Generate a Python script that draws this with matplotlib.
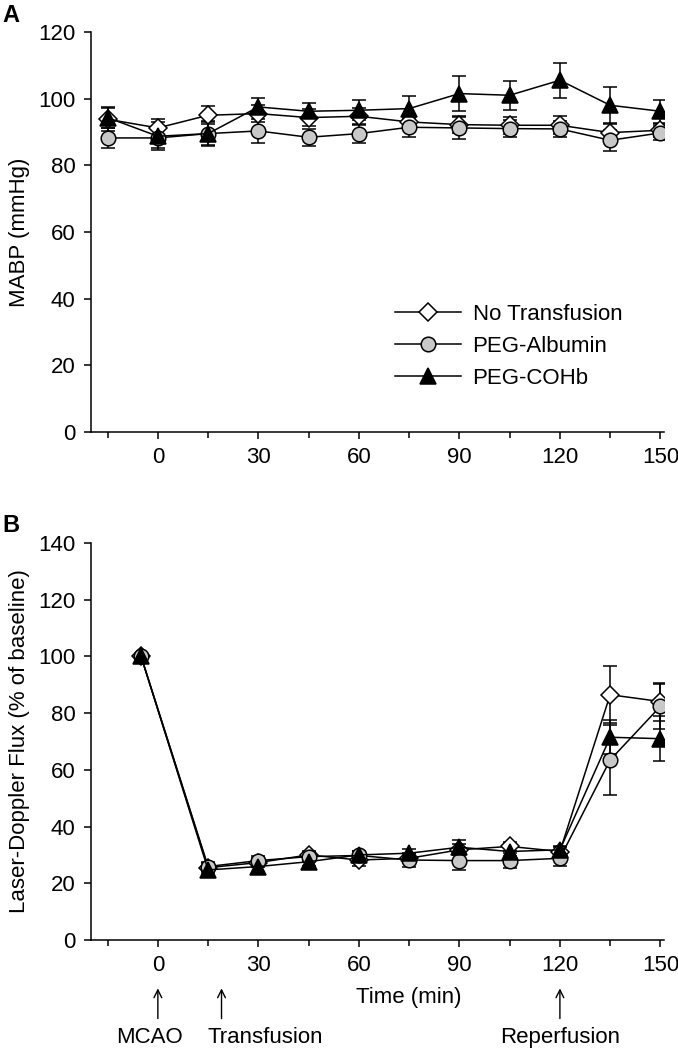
import numpy as np
import matplotlib
matplotlib.use("Agg")
import matplotlib.pyplot as plt
from matplotlib.lines import Line2D
from matplotlib.ticker import MultipleLocator
from matplotlib.transforms import blended_transform_factory

plt.rcParams["font.family"] = ["Liberation Sans", "DejaVu Sans"]

series_names = ["No Transfusion", "PEG-Albumin", "PEG-COHb"]

# Panel A: MABP (mmHg)
time_a = [-15, 0, 15, 30, 45, 60, 75, 90, 105, 120, 135, 150]
mabp_none = [93.8, 91.2, 95.0, 95.5, 94.3, 94.7, 93.0, 92.2, 92.0, 92.0, 89.8, 90.5]
mabp_none_err = [3.5, 2.7, 2.7, 2.5, 2.5, 2.5, 2.0, 2.5, 2.5, 2.7, 2.5, 2.0]
mabp_alb = [88.2, 88.2, 89.5, 90.3, 88.4, 89.5, 91.4, 91.2, 91.0, 90.9, 87.5, 89.7]
mabp_alb_err = [3.0, 3.0, 3.8, 3.5, 2.5, 2.8, 2.8, 3.4, 2.6, 2.5, 3.1, 2.2]
mabp_cohb = [94.3, 88.7, 89.5, 97.5, 96.2, 96.5, 97.0, 101.5, 101.0, 105.5, 98.0, 96.2]
mabp_cohb_err = [3.2, 4.2, 3.5, 2.8, 2.4, 3.0, 3.8, 5.2, 4.3, 5.2, 5.4, 3.5]

# Panel B: Laser-Doppler flux (% of baseline)
time_b = [-5, 15, 30, 45, 60, 75, 90, 105, 120, 135, 150]
ldf_none = [100, 25.5, 27.3, 30.0, 28.2, 28.8, 31.8, 33.0, 31.2, 86.5, 84.1]
ldf_none_err = [0.5, 1.5, 1.5, 1.5, 2.0, 1.5, 2.0, 1.5, 1.5, 10.0, 6.7]
ldf_alb = [100, 25.9, 28.0, 29.4, 29.8, 28.2, 28.0, 28.0, 28.8, 63.5, 82.4]
ldf_alb_err = [0.5, 1.5, 1.5, 1.5, 1.5, 2.5, 3.3, 2.5, 2.7, 12.5, 8.0]
ldf_cohb = [100, 24.7, 25.9, 27.6, 30.0, 30.6, 32.7, 31.2, 31.8, 71.5, 71.0]
ldf_cohb_err = [0.5, 1.5, 2.5, 1.5, 1.5, 1.5, 2.5, 1.5, 1.5, 6.0, 8.0]

events = ["MCAO", "Transfusion", "Reperfusion"]
event_times = [0, 19, 120]
event_label_x = [-2.5, 32, 120]

styles = [
    dict(marker="D", mfc="white", ms=9),
    dict(marker="o", mfc="#c8c8c8", ms=10.5),
    dict(marker="^", mfc="black", ms=11),
]

fs = 16

fig = plt.figure(figsize=(6.78, 10.5), dpi=100)
ax_a = fig.add_axes([0.134, 0.5886, 0.845, 0.381])
ax_b = fig.add_axes([0.134, 0.1048, 0.845, 0.378])


def draw_panel(ax, x, ys, errs, ymax):
    for name, y, e, st in zip(series_names, ys, errs, styles):
        ax.errorbar(x, y, yerr=e, color="black", lw=1.1, elinewidth=1.1,
                    capsize=5, capthick=1.1, marker=st["marker"], ms=st["ms"],
                    mfc=st["mfc"], mec="black", mew=1.1)
    ax.set_xlim(-20, 151)
    ax.set_ylim(0, ymax)
    ax.xaxis.set_major_locator(MultipleLocator(30))
    ax.xaxis.set_minor_locator(MultipleLocator(15))
    ax.yaxis.set_major_locator(MultipleLocator(20))
    ax.spines["top"].set_visible(False)
    ax.spines["right"].set_visible(False)
    for s in ["left", "bottom"]:
        ax.spines[s].set_linewidth(1.1)
    ax.tick_params(axis="both", which="major", direction="out", length=5,
                   width=1.1, labelsize=fs, pad=6)
    ax.tick_params(axis="x", which="minor", direction="out", length=4, width=1.1)
    ax.tick_params(axis="y", which="minor", length=0)


draw_panel(ax_a, time_a, [mabp_none, mabp_alb, mabp_cohb],
           [mabp_none_err, mabp_alb_err, mabp_cohb_err], 120)
ax_a.set_ylabel("MABP (mmHg)", fontsize=fs, labelpad=6)

handles = [Line2D([], [], color="black", lw=1.1, marker=st["marker"],
                  ms=st["ms"], mfc=st["mfc"], mec="black", mew=1.1)
           for st in styles]
ax_a.legend(handles, series_names, loc="lower left",
            bbox_to_anchor=(0.515, 0.085), frameon=False, fontsize=fs,
            handlelength=3.0, labelspacing=0.5, handletextpad=0.5,
            borderaxespad=0)

draw_panel(ax_b, time_b, [ldf_none, ldf_alb, ldf_cohb],
           [ldf_none_err, ldf_alb_err, ldf_cohb_err], 140)
ax_b.set_ylabel("Laser-Doppler Flux (% of baseline)", fontsize=fs, labelpad=6)

tr = blended_transform_factory(ax_b.transData, ax_b.transAxes)
ax_b.text(75, -0.145, "Time (min)", transform=tr, ha="center", va="center",
          fontsize=fs)
for name, t, lx in zip(events, event_times, event_label_x):
    ax_b.annotate("", xy=(t, -0.115), xytext=(t, -0.205), xycoords=tr,
                  textcoords=tr, annotation_clip=False,
                  arrowprops=dict(arrowstyle="->", lw=1.0, color="black",
                                  mutation_scale=14))
    ax_b.text(lx, -0.245, name, transform=tr, ha="center", va="center",
              fontsize=fs)

fig.text(0.004, 0.985, "A", fontsize=17, fontweight="bold", va="center")
fig.text(0.004, 0.5, "B", fontsize=17, fontweight="bold", va="center")

fig.savefig("out.png", dpi=100)
